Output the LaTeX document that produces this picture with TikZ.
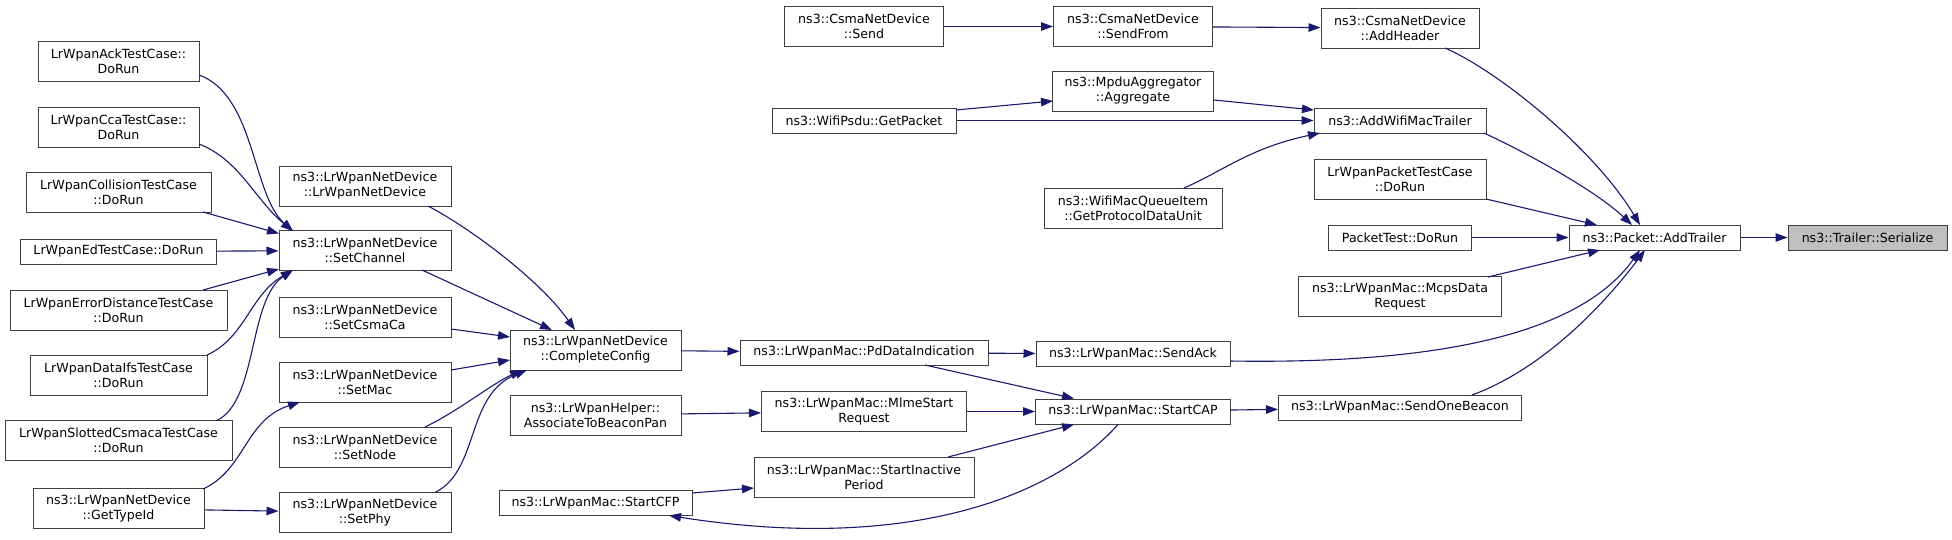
\documentclass[tikz,border=0pt]{standalone}
\usepackage{fontspec}
\setmainfont{DejaVu Sans}
\usetikzlibrary{arrows.meta,calc}
\definecolor{edgec}{HTML}{191970}
\definecolor{bordc}{HTML}{404040}
\definecolor{hilite}{HTML}{BFBFBF}
\begin{document}
\begin{tikzpicture}[x=1pt,y=-1pt,
  nd/.style={draw=bordc, line width=1pt, fill=white, inner sep=0pt, align=center,
    font=\fontsize{12.6}{15}\selectfont, text=black},
  ln1/.style={minimum height=25pt},
  ln2/.style={minimum height=40pt},
  e/.style={draw=edgec, line width=1.1pt, -{Triangle[length=12pt,width=8.5pt]}},
]
\fill[white] (0,0) rectangle (1952,539);
\useasboundingbox (0,0) rectangle (1952,539);

% column 1
\node[nd,ln2,minimum width=161pt] (ack)  at (118.5,61.5) {LrWpanAckTestCase::\\DoRun};
\node[nd,ln2,minimum width=161pt] (cca)  at (118.5,127)  {LrWpanCcaTestCase::\\DoRun};
\node[nd,ln2,minimum width=185pt] (coll) at (118.5,192.5) {LrWpanCollisionTestCase\\::DoRun};
\node[nd,ln1,minimum width=196pt] (ed)   at (118.5,251.5) {LrWpanEdTestCase::DoRun};
\node[nd,ln2,minimum width=217pt] (errd) at (118.5,310)  {LrWpanErrorDistanceTestCase\\::DoRun};
\node[nd,ln2,minimum width=177pt] (difs) at (118.5,375)  {LrWpanDataIfsTestCase\\::DoRun};
\node[nd,ln2,minimum width=227pt] (slot) at (118.5,440.5) {LrWpanSlottedCsmacaTestCase\\::DoRun};
\node[nd,ln2,minimum width=171pt] (gtid) at (118.5,508.5) {ns3::LrWpanNetDevice\\::GetTypeId};

% column 2
\node[nd,ln2,minimum width=172pt] (ctor)    at (365,186)   {ns3::LrWpanNetDevice\\::LrWpanNetDevice};
\node[nd,ln2,minimum width=172pt] (setch)   at (365,250.5) {ns3::LrWpanNetDevice\\::SetChannel};
\node[nd,ln2,minimum width=172pt] (setcsma) at (365,317)   {ns3::LrWpanNetDevice\\::SetCsmaCa};
\node[nd,ln2,minimum width=172pt] (setmac)  at (365,382)   {ns3::LrWpanNetDevice\\::SetMac};
\node[nd,ln2,minimum width=172pt] (setnode) at (365,447)   {ns3::LrWpanNetDevice\\::SetNode};
\node[nd,ln2,minimum width=172pt] (setphy)  at (365,512.5) {ns3::LrWpanNetDevice\\::SetPhy};

% column 3
\node[nd,ln2,minimum width=171pt] (cc)       at (595.5,350) {ns3::LrWpanNetDevice\\::CompleteConfig};
\node[nd,ln2,minimum width=171pt] (assoc)    at (595.5,415) {ns3::LrWpanHelper::\\AssociateToBeaconPan};
\node[nd,ln1,minimum width=193pt] (startcfp) at (595.5,503) {ns3::LrWpanMac::StartCFP};

% column 4
\node[nd,ln2,minimum width=159pt] (send)   at (864,26.5)  {ns3::CsmaNetDevice\\::Send};
\node[nd,ln1,minimum width=184pt] (getpkt) at (864,120.5) {ns3::WifiPsdu::GetPacket};
\node[nd,ln1,minimum width=248pt] (pd)     at (864,352.5) {ns3::LrWpanMac::PdDataIndication};
\node[nd,ln2,minimum width=205pt] (mlme)   at (864,411.5) {ns3::LrWpanMac::MlmeStart\\Request};
\node[nd,ln2,minimum width=220pt] (sip)    at (864,477)   {ns3::LrWpanMac::StartInactive\\Period};

% column 5
\node[nd,ln2,minimum width=159pt] (sendfrom) at (1133,26.5) {ns3::CsmaNetDevice\\::SendFrom};
\node[nd,ln2,minimum width=161pt] (aggr)     at (1133,91)   {ns3::MpduAggregator\\::Aggregate};
\node[nd,ln2,minimum width=178pt] (gpdu)     at (1133,208)  {ns3::WifiMacQueueItem\\::GetProtocolDataUnit};
\node[nd,ln1,minimum width=194pt] (sendack)  at (1133,354)  {ns3::LrWpanMac::SendAck};
\node[nd,ln1,minimum width=195pt] (startcap) at (1133,411.5) {ns3::LrWpanMac::StartCAP};

% column 6
\node[nd,ln2,minimum width=158pt] (addheader) at (1400,28)    {ns3::CsmaNetDevice\\::AddHeader};
\node[nd,ln1,minimum width=172pt] (awmt)      at (1400,120.5) {ns3::AddWifiMacTrailer};
\node[nd,ln2,minimum width=172pt] (lpt)       at (1400,179)   {LrWpanPacketTestCase\\::DoRun};
\node[nd,ln1,minimum width=143pt] (ptd)       at (1400,237.5) {PacketTest::DoRun};
\node[nd,ln2,minimum width=203pt] (mcps)      at (1400,296.5) {ns3::LrWpanMac::McpsData\\Request};
\node[nd,ln1,minimum width=243pt] (sob)       at (1400,407.5) {ns3::LrWpanMac::SendOneBeacon};

% columns 7, 8
\node[nd,ln1,minimum width=171pt] (addtr) at (1654.5,237.5) {ns3::Packet::AddTrailer};
\node[nd,ln1,minimum width=159pt,fill=hilite] (ser) at (1867.5,237.5) {ns3::Trailer::Serialize};

% edges into Serialize / AddTrailer
\draw[e] (addtr) -- (ser);
\draw[e] ($(addheader)+(45,20)$) .. controls (1500,72) and (1595,150) .. ($(addtr)+(-14.5,-12.5)$);
\draw[e] ($(awmt)+(84,12.5)$) .. controls (1525,152) and (1595,190) .. ($(addtr)+(-22.5,-12.5)$);
\draw[e] ($(lpt)+(86,20)$) -- ($(addtr)+(-57.5,-12.5)$);
\draw[e] (ptd) -- (addtr);
\draw[e] ($(mcps)+(88,-19.5)$) -- ($(addtr)+(-54.5,12.5)$);
\draw[e] ($(sendack)+(97,7)$) .. controls (1480,365) and (1590,320) .. ($(addtr)+(-14.5,12.5)$);
\draw[e] ($(sob)+(72,-12.5)$) .. controls (1540,370) and (1600,310) .. ($(addtr)+(-9.5,12.5)$);

% top part
\draw[e] (sendfrom) -- (addheader);
\draw[e] (send) -- (sendfrom);
\draw[e] ($(aggr)+(81,9)$) -- ($(awmt)+(-86,-10.5)$);
\draw[e] ($(getpkt)+(92,-10.5)$) -- ($(aggr)+(-80,10)$);
\draw[e] (getpkt) -- (awmt);
\draw[e] ($(gpdu)+(51,-20)$) .. controls (1225,170) and (1250,148) .. ($(awmt)+(-80,12.5)$);

% LrWpanMac part
\draw[e] (pd) -- (sendack);
\draw[e] ($(pd)+(61,12.5)$) -- ($(startcap)+(-59,-13)$);
\draw[e] (mlme) -- (startcap);
\draw[e] ($(sip)+(84,-20)$) -- ($(startcap)+(-59,13)$);
\draw[e] (startcap) -- (sob);
\draw[e] ($(startcap)+(-15,13)$) .. controls (1060,490) and (920,555) .. ($(startcfp)+(73.5,12.5)$);
\draw[e] ($(startcfp)+(96.5,-10)$) -- ($(sip)+(-110,11)$);
\draw[e] (cc) -- (pd);
\draw[e] (assoc) -- (mlme);

% into CompleteConfig
\draw[e] ($(ctor)+(63,20)$) .. controls (470,228) and (540,280) .. ($(cc)+(-20.5,-20)$);
\draw[e] ($(setch)+(57,19.5)$) -- ($(cc)+(-43.5,-20)$);
\draw[e] ($(setcsma)+(86,12)$) -- ($(cc)+(-85.5,-13)$);
\draw[e] ($(setmac)+(86,-12)$) -- ($(cc)+(-85.5,10)$);
\draw[e] ($(setnode)+(60,-20)$) .. controls (460,410) and (490,385) .. ($(cc)+(-73.5,20)$);
\draw[e] ($(setphy)+(70,-20)$) .. controls (480,470) and (465,395) .. ($(cc)+(-68.5,20)$);

% into SetChannel
\draw[e] ($(ack)+(80.5,13.5)$) .. controls (255,95) and (252,195) .. ($(setch)+(-72,-19.5)$);
\draw[e] ($(cca)+(80.5,17)$) .. controls (240,160) and (255,200) .. ($(setch)+(-72,-19.5)$);
\draw[e] ($(coll)+(84.5,19.5)$) -- ($(setch)+(-86,-17)$);
\draw[e] (ed) -- (setch);
\draw[e] ($(errd)+(84.5,-20)$) -- ($(setch)+(-86,18.5)$);
\draw[e] ($(difs)+(88.5,-20)$) .. controls (245,338) and (250,295) .. ($(setch)+(-72,19.5)$);
\draw[e] ($(slot)+(98.5,-20)$) .. controls (258,400) and (248,300) .. ($(setch)+(-72,19.5)$);

% GetTypeId
\draw[e] ($(gtid)+(84.5,-19.5)$) .. controls (245,470) and (245,420) .. ($(setmac)+(-65,20)$);
\draw[e] (gtid) -- (setphy);
\end{tikzpicture}
\end{document}
